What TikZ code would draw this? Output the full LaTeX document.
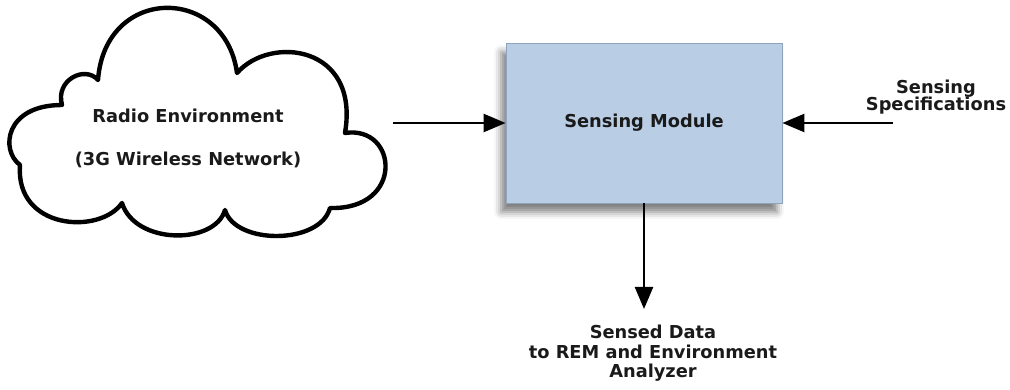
\documentclass[tikz,border=0pt]{standalone}
\usepackage{fontspec}
\setmainfont{DejaVu Sans}
\usetikzlibrary{arrows.meta,shadows.blur}
\definecolor{boxfill}{HTML}{B9CDE5}
\definecolor{boxline}{HTML}{8FA3BC}
\definecolor{txt}{HTML}{1A1A1A}
\begin{document}
\begin{tikzpicture}[x=1pt,y=-1pt,
  lbl/.style={font=\fontsize{17.8}{17.5}\selectfont\bfseries, text=txt, align=center, inner sep=0pt},
  conn/.style={line width=2.4pt, -{Triangle[length=22pt,width=18pt]}},
  modbox/.style={draw=boxline, line width=0.8pt, fill=boxfill, minimum width=276pt, minimum height=160pt, inner sep=0pt,
     blur shadow={shadow xshift=-5pt, shadow yshift=-9pt, shadow blur radius=7pt, shadow opacity=50}},
  cloudline/.style={line width=4.4pt, line join=round, draw=black, fill=white}]
\useasboundingbox (0,0) rectangle (1010,390);
% cloud
\draw[cloudline] (98,80) .. controls (105,-15) and (225,-15) .. (237,73)
  .. controls (270,35) and (360,45) .. (345,133)
  .. controls (398,125) and (405,210) .. (330,208)
  .. controls (320,245) and (235,245) .. (225,210)
  .. controls (215,245) and (135,245) .. (122,203)
  .. controls (100,235) and (15,230) .. (20,165)
  .. controls (0,150) and (5,105) .. (62,105)
  .. controls (55,80) and (85,65) .. (98,80) -- cycle;
\node[lbl] (re) at (188,116) {Radio Environment};
\node[lbl] (g3) at (188,160) {(3G Wireless Network)};
\coordinate (cloudout) at (393,123);
% module
\node[modbox] (sm) at (644,123) {};
\node[lbl] (smt) at (644,123) {Sensing Module};
% specs
\node[lbl] (spec) at (936,97) {Sensing\\Specifications};
\coordinate (specin) at (893,123);
% output
\node[lbl, font=\fontsize{17.8}{19.5}\selectfont\bfseries, anchor=north] (out) at (653,325) {Sensed Data\\to REM and Environment\\Analyzer};
\coordinate (outtip) at (644,309);
\draw[conn] (cloudout) -- (sm.west);
\draw[conn] (specin) -- (sm.east);
\draw[conn] (sm.south -| outtip) -- (outtip);
\end{tikzpicture}
\end{document}
